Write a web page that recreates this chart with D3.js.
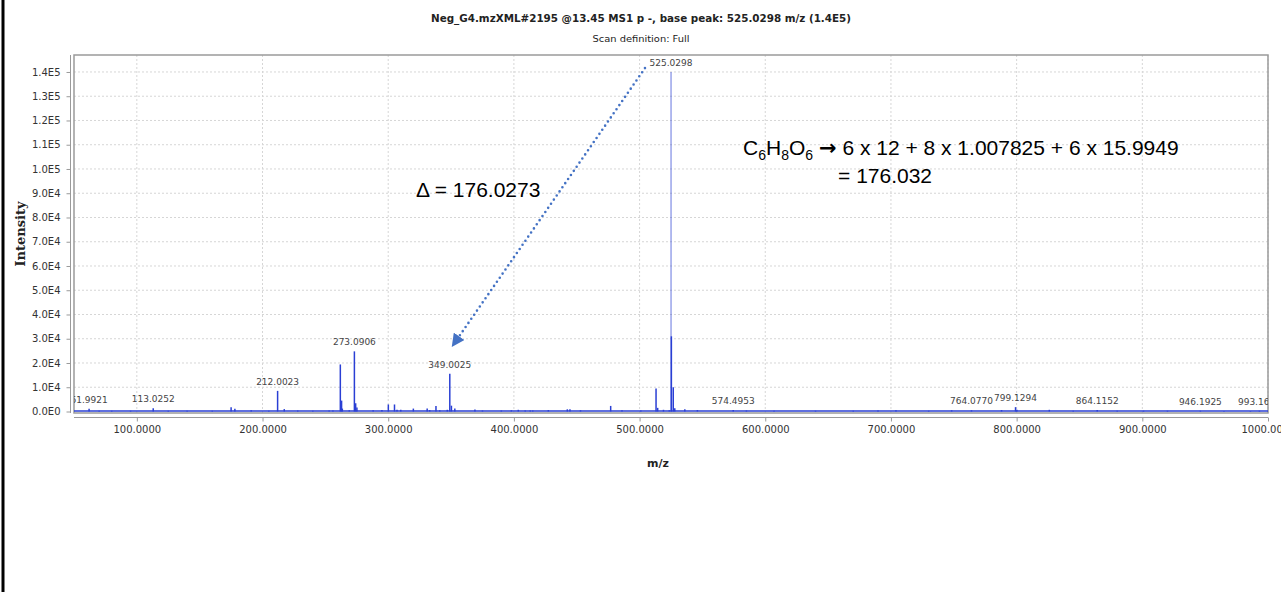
<!DOCTYPE html>
<html>
<head>
<meta charset="utf-8">
<script src="https://cdn.jsdelivr.net/npm/d3@7"></script>
<style>
  body { margin: 0; background: #fff; }
  svg { display: block; }
</style>
</head>
<body>
<div id="spectrum"></div>
<script>
// spectrum peaks (m/z, intensity)
const peakMz = [
  62.0, 70, 80, 95, 113.03, 125, 140, 160, 175.0, 178.0, 191, 205, 212.0, 217.3, 228, 240,
  253, 256, 261.9, 262.9, 263.5, 269, 273.09, 274.1, 275.1, 288, 295, 300.1, 305, 307, 310,
  320, 331, 333, 338, 341, 347, 349.0, 350.3, 353, 369, 375, 390, 398, 403.5, 409, 413, 415,
  427.4, 442.5, 444.6, 453, 477, 486, 501, 513.1, 514.4, 519, 523.6, 525.03, 525.3, 526.8,
  528, 536, 546, 574.5, 585, 607, 640, 670, 689.7, 704, 730, 748.3, 764.08, 788, 799.13,
  800.2, 826, 845, 864.12, 880, 901, 920, 946.19, 965, 986, 993.17
];
const peakInt = [
  1100, 300, 300, 300, 1300, 300, 300, 300, 1800, 1100, 500, 300, 8500, 1000, 400, 300,
  400, 400, 19400, 4500, 1200, 500, 24800, 3400, 1700, 500, 600, 2900, 2900, 700, 700,
  1200, 1200, 600, 2300, 500, 700, 15600, 2400, 1200, 800, 400, 400, 500, 700, 400, 400, 400,
  600, 900, 900, 500, 2300, 500, 400, 9500, 1500, 700, 500, 140000, 31000, 10000,
  1300, 900, 600, 600, 400, 300, 300, 300, 400, 500, 300, 500, 500, 600, 1800,
  700, 700, 300, 600, 300, 300, 300, 300, 250, 200, 300
];

// labelled peaks
const labelMz = [62.0, 113.03, 212.0, 273.09, 349.0, 525.03, 574.5, 764.08, 799.13, 864.12, 946.19, 993.17];
const labelInt = [1100, 1300, 8500, 24800, 15600, 140000, 600, 500, 1800, 600, 300, 300];
const labelText = ["61.9921", "113.0252", "212.0023", "273.0906", "349.0025", "525.0298",
  "574.4953", "764.0770", "799.1294", "864.1152", "946.1925", "993.1652"];

const xTicks = [100, 200, 300, 400, 500, 600, 700, 800, 900, 1000];
const yTicks = [0, 10000, 20000, 30000, 40000, 50000, 60000, 70000, 80000, 90000,
  100000, 110000, 120000, 130000, 140000];

const titleText = "Neg_G4.mzXML#2195 @13.45 MS1 p -, base peak: 525.0298 m/z (1.4E5)";
const subtitleText = "Scan definition: Full";

// annotation anchors in data units [m/z, intensity]
const arrowFrom = [504.3, 141600];
const arrowTo = [353.5, 28800];
const deltaAt = [322.1, 88400];
const formulaAt = [582.3, 105800];
const formula2At = [657.9, 94200];

const width = 1281;
const height = 592;
const plotL = 74, plotR = 1268, plotT = 55, plotB = 413;

const svg = d3.select("#spectrum")
  .append("svg")
  .attr("width", width)
  .attr("height", height);

const x = d3.scaleLinear().domain([50, 1000]).range([plotL, plotR]);
const y = d3.scaleLinear().domain([0, 147000]).range([411.5, plotT]);

// slide frame line on the left
svg.append("line")
  .attr("x1", 3).attr("x2", 3)
  .attr("y1", 0).attr("y2", height)
  .attr("stroke", "#000")
  .attr("stroke-width", 3);

// titles
svg.append("text")
  .attr("x", 641).attr("y", 22)
  .attr("text-anchor", "middle")
  .attr("font-family", "DejaVu Sans")
  .attr("font-weight", "bold")
  .attr("font-size", 10)
  .attr("textLength", 420)
  .attr("lengthAdjust", "spacingAndGlyphs")
  .attr("fill", "#222")
  .text(titleText);

svg.append("text")
  .attr("x", 641).attr("y", 42)
  .attr("text-anchor", "middle")
  .attr("font-family", "DejaVu Sans")
  .attr("font-size", 9)
  .attr("textLength", 97)
  .attr("lengthAdjust", "spacingAndGlyphs")
  .attr("fill", "#222")
  .text(subtitleText);

const defs = svg.append("defs");
defs.append("clipPath")
  .attr("id", "plotClip")
  .append("rect")
  .attr("x", plotL).attr("y", plotT)
  .attr("width", plotR - plotL).attr("height", plotB - plotT);

// grid
const grid = svg.append("g");
grid.selectAll(".vgrid")
  .data(xTicks)
  .enter()
  .append("line")
  .attr("x1", (d) => x(d)).attr("x2", (d) => x(d))
  .attr("y1", plotT).attr("y2", plotB)
  .attr("stroke", "#d6d6d6")
  .attr("stroke-dasharray", "2,2");
grid.selectAll(".hgrid")
  .data(yTicks.slice(1))
  .enter()
  .append("line")
  .attr("x1", plotL).attr("x2", plotR)
  .attr("y1", (d) => y(d)).attr("y2", (d) => y(d))
  .attr("stroke", "#d6d6d6")
  .attr("stroke-dasharray", "2,2");

// plot frame
svg.append("rect")
  .attr("x", plotL).attr("y", plotT)
  .attr("width", plotR - plotL).attr("height", plotB - plotT)
  .attr("fill", "none")
  .attr("stroke", "#9a9a9a")
  .attr("stroke-width", 1.5);

// axes
const fmtY = (v) => {
  if (v === 0) return "0.0E0";
  const e = Math.floor(Math.log10(v));
  return (v / Math.pow(10, e)).toFixed(1) + "E" + e;
};

const yAxis = svg.append("g")
  .attr("transform", "translate(70.5,0)")
  .call(d3.axisLeft(y).tickValues(yTicks).tickFormat(fmtY).tickSizeOuter(0).tickSizeInner(4).tickPadding(6));
yAxis.select(".domain").attr("stroke", "#9a9a9a").attr("d", `M0,${plotT}V${plotB}`);

const xAxis = svg.append("g")
  .attr("transform", "translate(0,417.5)")
  .call(d3.axisBottom(x).tickValues(xTicks).tickFormat((d) => d.toFixed(4)).tickSizeOuter(0).tickSizeInner(4).tickPadding(4));
xAxis.select(".domain").attr("stroke", "#9a9a9a").attr("d", `M${plotL},0H${plotR}`);

[xAxis, yAxis].forEach((a) => {
  a.selectAll(".tick line").attr("stroke", "#9a9a9a");
  a.selectAll(".tick text")
    .attr("font-family", "DejaVu Sans")
    .attr("font-size", 10)
    .attr("fill", "#333");
});

// axis titles
svg.append("text")
  .attr("transform", "translate(25,234) rotate(-90)")
  .attr("text-anchor", "middle")
  .attr("font-family", "DejaVu Serif")
  .attr("font-weight", "bold")
  .attr("font-size", 13)
  .attr("fill", "#222")
  .text("Intensity");

svg.append("text")
  .attr("x", 658).attr("y", 467)
  .attr("text-anchor", "middle")
  .attr("font-family", "DejaVu Sans")
  .attr("font-weight", "bold")
  .attr("font-size", 11)
  .attr("fill", "#222")
  .text("m/z");

// spectrum
const plot = svg.append("g").attr("clip-path", "url(#plotClip)");
const peaks = peakMz.map((m, i) => ({ mz: m, int: peakInt[i] }));

plot.append("line")
  .attr("x1", x(50)).attr("x2", x(1000))
  .attr("y1", y(0) - 0.5).attr("y2", y(0) - 0.5)
  .attr("stroke", "#2a3fd4")
  .attr("stroke-width", 1.6);

plot.selectAll(".peak")
  .data(peaks)
  .enter()
  .append("line")
  .attr("class", "peak")
  .attr("x1", (d) => x(d.mz)).attr("x2", (d) => x(d.mz))
  .attr("y1", y(0)).attr("y2", (d) => y(d.int))
  .attr("stroke", "#2a3fd4")
  .attr("stroke-opacity", (d) => (d.int > 100000 ? 0.6 : 1))
  .attr("stroke-width", (d) => (d.int > 100000 ? 1.2 : 1.5));

const labels = labelMz.map((m, i) => ({ mz: m, int: labelInt[i], text: labelText[i] }));
plot.selectAll(".plabel")
  .data(labels)
  .enter()
  .append("text")
  .attr("class", "plabel")
  .attr("x", (d) => x(d.mz))
  .attr("y", (d) => y(d.int) - 6)
  .attr("text-anchor", "middle")
  .attr("font-family", "DejaVu Sans")
  .attr("font-size", 9)
  .attr("fill", "#444")
  .text((d) => d.text);

// annotations
const blue = "#4472c4";
defs.append("marker")
  .attr("id", "arrowHead")
  .attr("viewBox", "0 0 10 10")
  .attr("refX", 5).attr("refY", 5)
  .attr("markerWidth", 5).attr("markerHeight", 5)
  .attr("markerUnits", "strokeWidth")
  .attr("orient", "auto")
  .append("path")
  .attr("d", "M0,0L10,5L0,10Z")
  .attr("fill", blue);

svg.append("line")
  .attr("x1", x(arrowFrom[0])).attr("y1", y(arrowFrom[1]))
  .attr("x2", x(arrowTo[0])).attr("y2", y(arrowTo[1]))
  .attr("stroke", blue)
  .attr("stroke-width", 2.6)
  .attr("stroke-linecap", "round")
  .attr("stroke-dasharray", "0,5")
  .attr("marker-end", "url(#arrowHead)");

svg.append("text")
  .attr("x", x(deltaAt[0])).attr("y", y(deltaAt[1]))
  .attr("font-family", "Liberation Sans")
  .attr("font-size", 21)
  .attr("fill", "#000")
  .text("Δ = 176.0273");

const f = svg.append("text")
  .attr("x", x(formulaAt[0])).attr("y", y(formulaAt[1]))
  .attr("font-family", "Liberation Sans")
  .attr("font-size", 21)
  .attr("fill", "#000");
const parts = [["C", 0], ["6", 1], ["H", 0], ["8", 1], ["O", 0], ["6", 1]];
parts.forEach(([t, sub], i) => {
  const prevSub = i > 0 ? parts[i - 1][1] : 0;
  f.append("tspan")
    .attr("dy", sub && !prevSub ? 5 : !sub && prevSub ? -5 : 0)
    .attr("font-size", sub ? 14 : 21)
    .text(t);
});
f.append("tspan").attr("dy", -5).text(" ");
f.append("tspan")
  .attr("font-family", "DejaVu Sans")
  .attr("font-weight", "bold")
  .attr("font-size", 21)
  .text("\u2192");
f.append("tspan").text(" 6 x 12 + 8 x 1.007825 + 6 x 15.9949");

svg.append("text")
  .attr("x", x(formula2At[0])).attr("y", y(formula2At[1]))
  .attr("font-family", "Liberation Sans")
  .attr("font-size", 21)
  .attr("fill", "#000")
  .text("= 176.032");
</script>
</body>
</html>
